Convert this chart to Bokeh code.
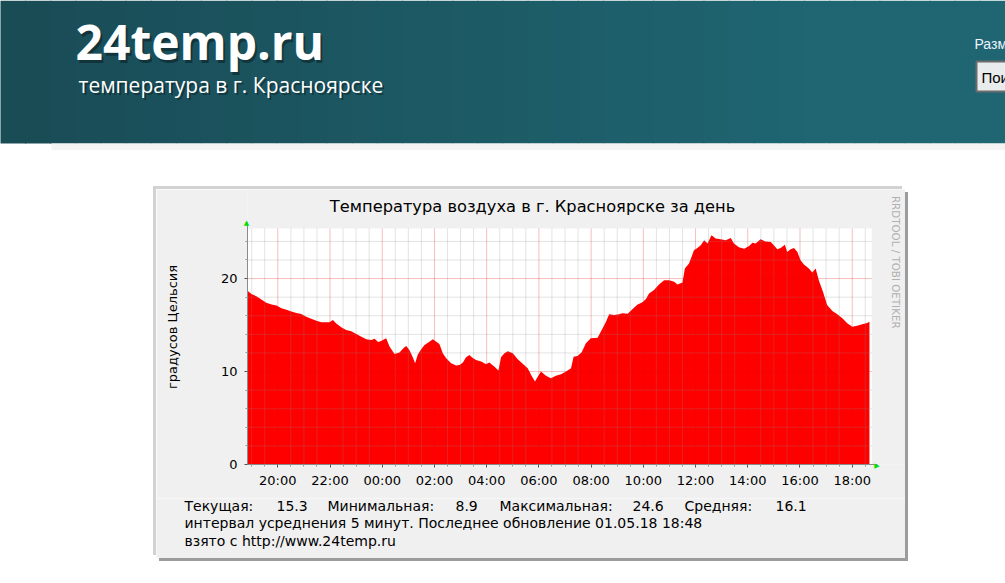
from math import pi
from bokeh.plotting import figure
from bokeh.layouts import column, row
from bokeh.models import Range1d, FixedTicker, Spacer, Label
from bokeh.core.properties import value
from bokeh.embed import file_html
from bokeh.resources import INLINE

# ---- data: hours relative to 00:00 of 01.05.18, air temperature (deg C) ----
hours = [-5.16, -5.01, -4.82, -4.63, -4.44, -4.24, -4.05, -3.86, -3.67, -3.48,
         -3.29, -3.10, -2.91, -2.72, -2.52, -2.33, -2.14, -2.02, -1.89, -1.76,
         -1.57, -1.38, -1.19, -0.99, -0.80, -0.61, -0.42, -0.29, -0.16, -0.04,
         0.15, 0.28, 0.47, 0.66, 0.85, 0.92, 1.04, 1.17, 1.26, 1.36,
         1.49, 1.62, 1.75, 1.94, 2.07, 2.19, 2.32, 2.45, 2.64, 2.83,
         2.96, 3.09, 3.21, 3.34, 3.43, 3.59, 3.79, 3.98, 4.10, 4.29,
         4.45, 4.55, 4.68, 4.81, 5.00, 5.19, 5.38, 5.57, 5.72, 5.85,
         5.95, 6.08, 6.27, 6.46, 6.65, 6.85, 7.04, 7.23, 7.33, 7.48,
         7.64, 7.80, 7.99, 8.25, 8.37, 8.57, 8.69, 8.88, 9.07, 9.20,
         9.40, 9.59, 9.78, 9.97, 10.10, 10.22, 10.41, 10.60, 10.80, 10.99,
         11.18, 11.31, 11.50, 11.59, 11.75, 11.94, 12.07, 12.20, 12.33, 12.46,
         12.61, 12.77, 12.96, 13.15, 13.35, 13.47, 13.66, 13.86, 14.05, 14.18,
         14.30, 14.49, 14.68, 14.88, 15.00, 15.13, 15.26, 15.42, 15.51, 15.64,
         15.77, 15.90, 16.02, 16.15, 16.34, 16.47, 16.60, 16.72, 16.88, 17.04,
         17.24, 17.43, 17.62, 17.81, 18.00, 18.19, 18.38, 18.57, 18.66]
temps = [18.68, 18.33, 18.10, 17.76, 17.40, 17.22, 17.10, 16.80, 16.65, 16.47,
         16.29, 16.18, 15.90, 15.68, 15.47, 15.29, 15.29, 15.30, 15.54, 15.18,
         14.76, 14.47, 14.33, 14.04, 13.75, 13.47, 13.40, 13.54, 13.18, 13.29,
         13.58, 12.68, 11.90, 12.04, 12.60, 12.75, 12.33, 11.54, 10.90, 11.80,
         12.40, 12.86, 13.10, 13.47, 13.20, 12.97, 11.97, 11.43, 10.90, 10.64,
         10.70, 10.96, 11.54, 11.79, 11.54, 11.25, 11.07, 10.79, 10.96, 10.54,
         10.11, 11.54, 11.97, 12.19, 11.97, 11.33, 10.83, 10.36, 9.54, 8.93,
         9.40, 10.00, 9.54, 9.29, 9.54, 9.70, 10.00, 10.36, 11.60, 11.68,
         12.08, 13.04, 13.58, 13.64, 14.29, 15.36, 16.15, 16.08, 16.15, 16.26,
         16.22, 16.72, 17.22, 17.44, 17.79, 18.40, 18.76, 19.37, 19.83, 19.83,
         19.65, 19.37, 19.58, 21.08, 21.62, 23.04, 23.29, 23.58, 24.12, 23.76,
         24.65, 24.30, 24.22, 24.12, 24.36, 23.76, 23.36, 23.22, 23.50, 23.86,
         23.76, 24.22, 24.00, 23.93, 23.58, 23.15, 23.29, 23.65, 22.86, 23.15,
         23.29, 22.86, 21.97, 21.51, 21.08, 20.65, 21.08, 19.83, 18.58, 17.15,
         16.50, 16.15, 15.72, 15.19, 14.82, 14.93, 15.08, 15.22, 15.36]

tick_hours = [-4, -2, 0, 2, 4, 6, 8, 10, 12, 14, 16, 18]
tick_labels = ["20:00", "22:00", "00:00", "02:00", "04:00", "06:00",
               "08:00", "10:00", "12:00", "14:00", "16:00", "18:00"]
y_ticks = [0, 10, 20]

stat_names = ["Текущая:", "Минимальная:", "Максимальная:", "Средняя:"]
stat_values = ["15.3", "8.9", "24.6", "16.1"]

site_name = "24temp.ru"
site_sub = "температура в г. Красноярске"
size_caption = "Разм"
size_select = "Пои"
chart_title = "Температура воздуха в г. Красноярске за день"
y_title = "градусов Цельсия"
watermark = "RRDTOOL / TOBI OETIKER"
info_line = "интервал усреднения 5 минут. Последнее обновление 01.05.18 18:48"
source_line = "взято с http://www.24temp.ru"

FONT = "DejaVu Sans"
PANEL = "#f0f0f0"


def mid(baseline, size, k=0.297):
    """y of the em-box middle for a wanted baseline (text_baseline='middle')."""
    return baseline - k * size


def no_frame_align(f):
    if "frame_align" in f.properties():
        f.frame_align = False


def deco_fig(w, h, x0, x1, y_top, y_bottom, bg):
    f = figure(width=w, height=h, output_backend="svg", toolbar_location=None,
               x_range=Range1d(x0, x1), y_range=Range1d(y_bottom, y_top),
               x_axis_type=None, y_axis_type=None, min_border=0)
    f.title.visible = False
    f.grid.visible = False
    f.outline_line_color = None
    f.background_fill_color = bg
    f.border_fill_color = bg
    no_frame_align(f)
    return f


# ---------------- header ----------------
header = deco_fig(1005, 150, 0, 1005, 0, 150, "white")
c0 = (0x1a, 0x4c, 0x56)
c1 = (0x1f, 0x66, 0x72)
n = 40
lefts, rights, cols = [], [], []
for i in range(n):
    f = min(1.0, i / (n * 0.8))
    cols.append("#%02x%02x%02x" % tuple(int(a + (b - a) * f) for a, b in zip(c0, c1)))
    lefts.append(i * 1005 / n - 0.5)
    rights.append((i + 1) * 1005 / n + 0.5)
header.quad(left=lefts, right=rights, top=0, bottom=143, fill_color=cols, line_color=None)
header.quad(left=51, right=1005, top=143, bottom=150, fill_color="#f4f4f4", line_color=None)

OS = 0.285
header.text(x=[77], y=[mid(58, 48, OS)], text=[site_name], text_font=value("Open Sans"),
            text_font_style="bold", text_font_size="48px", text_color="black",
            text_alpha=0.35, text_baseline="middle")
header.text(x=[75], y=[mid(55, 48, OS)], text=[site_name], text_font=value("Open Sans"),
            text_font_style="bold", text_font_size="48px", text_color="white",
            text_baseline="middle")
header.text(x=[80], y=[mid(92, 21, OS)], text=[site_sub], text_font=value("Open Sans"),
            text_font_size="21px", text_color="black", text_alpha=0.35,
            text_baseline="middle")
header.text(x=[78], y=[mid(90, 21, OS)], text=[site_sub], text_font=value("Open Sans"),
            text_font_size="21px", text_color="white", text_baseline="middle")
header.text(x=[974], y=[mid(48, 14, 0.31)], text=[size_caption], text_font=value("Liberation Sans"),
            text_font_size="14px", text_color="#eef4ff", text_baseline="middle")
header.quad(left=976, right=1012, top=61, bottom=91, fill_color="#e8ecec",
            line_color="#6c6c6c", line_width=2)
header.text(x=[981], y=[mid(82, 15, 0.31)], text=[size_select], text_font=value("Liberation Sans"),
            text_font_size="15px", text_color="black", text_baseline="middle")

# ---------------- chart ----------------
# chart figure covers page x 156..905, y 189..498; frame: x 246..905, y 189..465
T_START, T_END = -5.16, 18.75      # white canvas, hours
Y_TOP = 25.4                       # white canvas top, deg C
PX_H, PX_D = 26.15, 9.33           # pixels per hour / per degree
FW, FH = 659, 276

chart = figure(width=749, height=309, output_backend="svg", toolbar_location=None,
               x_range=Range1d(T_START, T_START + FW / PX_H),
               y_range=Range1d(0, FH / PX_D),
               min_border_left=90, min_border_right=0, min_border_top=0,
               min_border_bottom=33)
chart.title.visible = False
no_frame_align(chart)
chart.extra_x_ranges = {"px": Range1d(246, 905)}
chart.extra_y_ranges = {"px": Range1d(465, 189)}
chart.background_fill_color = PANEL
chart.border_fill_color = PANEL
chart.outline_line_color = None
chart.grid.visible = False

chart.quad(left=T_START, right=T_END, bottom=0, top=Y_TOP, fill_color="white", line_color=None)
chart.varea(x=hours, y1=0, y2=temps, fill_color="#ff0000", fill_alpha=1.0)

minor_x = [h / 2 for h in range(-10, 38) if h % 4 != 0]
minor_y = [v for v in range(2, 26, 2) if v % 10 != 0]
major_y = [v for v in y_ticks if v > 0]
chart.segment(x0=minor_x, y0=0, x1=minor_x, y1=Y_TOP, line_color="#8c8c8c", line_alpha=0.24)
chart.segment(x0=T_START, y0=minor_y, x1=T_END, y1=minor_y, line_color="#8c8c8c", line_alpha=0.24)
chart.segment(x0=tick_hours, y0=0, x1=tick_hours, y1=Y_TOP, line_color="#e00000", line_alpha=0.26)
chart.segment(x0=T_START, y0=major_y, x1=T_END, y1=major_y, line_color="#e00000", line_alpha=0.26)

chart.text(x=[531.5], y=[mid(210.5, 16.25)], text=[chart_title], x_range_name="px", y_range_name="px",
           text_font=value(FONT), text_font_size="16.25px", text_color="black",
           text_align="center", text_baseline="middle")
chart.text(x=[895], y=[262], text=[watermark], x_range_name="px", y_range_name="px",
           text_font=value(FONT), text_font_size="10.3px", text_color="#b0b0b0",
           text_align="center", text_baseline="middle", angle=-pi / 2)

chart.xaxis.ticker = FixedTicker(ticks=tick_hours, minor_ticks=minor_x)
chart.yaxis.ticker = FixedTicker(ticks=y_ticks, minor_ticks=minor_y)
chart.xaxis.major_label_overrides = {float(h): lab for h, lab in zip(tick_hours, tick_labels)}
chart.xaxis.bounds = (T_START, 18.95)
chart.yaxis.bounds = (0, 26.0)
for ax in (chart.xaxis[0], chart.yaxis[0]):
    ax.axis_line_color = "#8a8a8a"
    ax.major_tick_line_color = "#555555"
    ax.minor_tick_line_color = "#999999"
    ax.major_tick_out = 3
    ax.major_tick_in = 0
    ax.minor_tick_out = 2
    ax.minor_tick_in = 0
    ax.major_label_text_font = FONT
    ax.major_label_text_font_size = "13px"
    ax.major_label_text_color = "black"
chart.xaxis.major_label_standoff = 5
chart.yaxis.major_label_standoff = 7
chart.yaxis.axis_label = y_title
chart.yaxis.axis_label_text_font = FONT
chart.yaxis.axis_label_text_font_size = "13px"
chart.yaxis.axis_label_text_font_style = "normal"
chart.yaxis.axis_label_text_color = "black"
chart.yaxis.axis_label_standoff = 38

# green arrow heads at the axis ends (canvas pixels of the chart figure)
chart.add_layout(Label(x=90, y=33.5, x_units="canvas", y_units="canvas", text="▲",
                       text_font=FONT, text_font_size="7px", text_color="#00e000",
                       text_align="center", text_baseline="middle"), "left")
chart.add_layout(Label(x=720.5, y=276, x_units="canvas", y_units="canvas", text="▶",
                       text_font=FONT, text_font_size="7px", text_color="#00e000",
                       text_align="center", text_baseline="middle"), "below")

# ---------------- legend lines under the chart ----------------
legend = deco_fig(749, 60, 156, 905, 498, 558, PANEL)
name_x = [184, 327, 499, 684]
value_x = [276, 455, 632, 775]
legend.text(x=name_x, y=mid(510, 14), text=stat_names, text_font=value(FONT),
            text_font_size="14px", text_color="black", text_baseline="middle")
legend.text(x=value_x, y=mid(510, 14), text=stat_values, text_font=value(FONT),
            text_font_size="14px", text_color="black", text_baseline="middle")
legend.text(x=[184, 184], y=[mid(527, 14), mid(545, 14)], text=[info_line, source_line],
            text_font=value(FONT), text_font_size="14px", text_color="black",
            text_baseline="middle")

chart_box = column(chart, legend,
                   styles={"box-shadow": "-3px -3px 0 0 #d2d2d2, 3px 3px 0 0 #9c9c9c"})

# thin line of the next block
nextline = deco_fig(754, 2, 0, 1, 1, 0, "#d8d8d8")

page = column(header, Spacer(height=39), row(Spacer(width=156), chart_box),
              Spacer(height=22), row(Spacer(width=154), nextline))

open("out.html", "w").write(file_html(page, INLINE))
